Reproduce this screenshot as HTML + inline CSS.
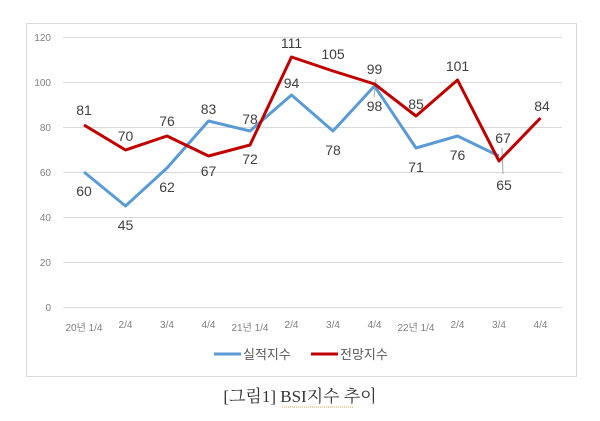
<!DOCTYPE html>
<html><head><meta charset="utf-8"><style>
body{margin:0;background:#fff;width:600px;height:416px;overflow:hidden}
text{font-family:"Liberation Sans","Noto Sans CJK KR",sans-serif}
</style></head><body>
<svg width="600" height="416" xmlns="http://www.w3.org/2000/svg">
<rect x="26.5" y="23.5" width="550" height="353" fill="#fff" stroke="#d9d9d9"/>
<g stroke="#d9d9d9" stroke-width="1">
<line x1="63" x2="562" y1="37.5" y2="37.5"/><line x1="63" x2="562" y1="82.5" y2="82.5"/>
<line x1="63" x2="562" y1="127.5" y2="127.5"/><line x1="63" x2="562" y1="172.5" y2="172.5"/>
<line x1="63" x2="562" y1="217.5" y2="217.5"/><line x1="63" x2="562" y1="262.5" y2="262.5"/>
<line x1="63" x2="562" y1="307.5" y2="307.5"/></g>
<g font-size="10" fill="#7f7f7f" text-anchor="end">
<text x="51" y="41">120</text><text x="51" y="86">100</text><text x="51" y="131">80</text><text x="51" y="176">60</text><text x="51" y="221">40</text><text x="51" y="266">20</text><text x="51" y="311">0</text></g>
<g font-size="10" fill="#7f7f7f" text-anchor="middle">
<text x="84" y="331">20년 1/4</text><text x="125.5" y="328">2/4</text><text x="167" y="328">3/4</text><text x="208.5" y="328">4/4</text><text x="250" y="331">21년 1/4</text><text x="291.5" y="328">2/4</text><text x="333" y="328">3/4</text><text x="374.5" y="328">4/4</text><text x="416" y="331">22년 1/4</text><text x="457.5" y="328">2/4</text><text x="499" y="328">3/4</text><text x="540.5" y="328">4/4</text></g>
<g stroke="#a6a6a6" stroke-width="1"><line x1="376" y1="79" x2="374" y2="97"/><line x1="502" y1="148" x2="503" y2="174"/></g>
<polyline fill="none" stroke="#5b9bd5" stroke-width="3" stroke-linejoin="round" points="84,172 125.5,206 167,168 208.5,121 250,131 291.5,95 333,131 374.5,86 416,148 457.5,136 499,156"/>
<polyline fill="none" stroke="#c00000" stroke-width="3" stroke-linejoin="round" points="84,125 125.5,150 167,136 208.5,156 250,145 291.5,57 333,71 374.5,84 416,116 457.5,80 499,161 540.5,118"/>
<g font-size="14" fill="#404040" text-anchor="middle">
<text x="84" y="196">60</text><text x="125.5" y="230">45</text><text x="167" y="192">62</text><text x="208.5" y="114">83</text><text x="250" y="124">78</text><text x="291.5" y="88">94</text><text x="333" y="155">78</text><text x="374.5" y="111">98</text><text x="416" y="172">71</text><text x="457.5" y="160">76</text><text x="503" y="143">67</text>
<text x="84" y="115">81</text><text x="125.5" y="141">70</text><text x="167" y="126">76</text><text x="208.5" y="176">67</text><text x="250" y="164">72</text><text x="291.5" y="48">111</text><text x="333" y="59">105</text><text x="374.5" y="74">99</text><text x="416" y="109">85</text><text x="457.5" y="71">101</text><text x="504" y="190">65</text><text x="542" y="111">84</text></g>
<line x1="214" x2="241" y1="366" y2="366" stroke="#5b9bd5" stroke-width="3" transform="translate(0,-12)"/>
<text x="243" y="359" font-size="13" fill="#595959">실적지수</text>
<line x1="311" x2="338" y1="354" y2="354" stroke="#c00000" stroke-width="3"/>
<text x="340" y="359" font-size="13" fill="#595959">전망지수</text>
<text x="300" y="402" font-size="17" fill="#333" text-anchor="middle" style="font-family:'Liberation Serif','Noto Serif CJK SC',serif">[그림1] BSI지수 추이</text>
<line x1="282" x2="354" y1="407" y2="407" stroke="#e0a050" stroke-width="1" stroke-dasharray="1,1"/>
</svg>
</body></html>
